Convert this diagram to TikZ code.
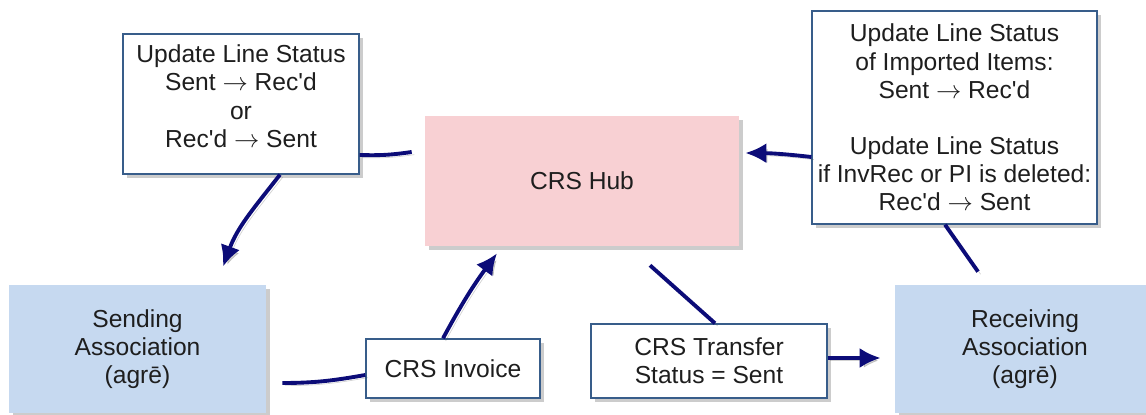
\documentclass[tikz,border=0pt]{standalone}
\usepackage{fontspec}
\setmainfont{Liberation Sans}
\usetikzlibrary{arrows.meta,shadows}

\definecolor{hubpink}{RGB}{248,208,211}
\definecolor{assocblue}{RGB}{198,217,240}
\definecolor{boxline}{RGB}{56,93,138}
\definecolor{flownavy}{RGB}{12,12,120}
\definecolor{inktext}{RGB}{30,30,30}

\newcommand{\recd}{Rec\textquotesingle d}
\newcommand{\goesto}{$\rightarrow$}

\tikzset{
    px/.style={x=0.02cm, y=0.02cm},
    all text/.style={font=\fontsize{14}{16}\selectfont, text=inktext, align=center},
    soft shadow/.style={drop shadow={opacity=.4, shadow xshift=2.5pt, shadow yshift=-2.5pt}},
    note box/.style={all text, draw=boxline, line width=.8pt, fill=white, soft shadow, inner sep=0pt},
    assoc box/.style={all text, fill=assocblue, soft shadow, inner sep=0pt},
    hub box/.style={all text, fill=hubpink, soft shadow, inner sep=0pt},
    flow/.style={draw=flownavy, line width=2.2pt,
        preaction={draw=black!70, opacity=.25, transform canvas={xshift=1.5pt, yshift=-1.5pt}}},
    flow arrow/.style={flow, -{Latex[length=12pt, width=11.5pt]}}
}

\begin{document}
\begin{tikzpicture}[px]
    \useasboundingbox (0,0) rectangle (1146,415);

    \node[hub box, minimum width=6.28cm, minimum height=2.6cm] (hub) at (582,234) {CRS Hub};
    \node[note box, minimum width=4.72cm, minimum height=2.8cm] (upleft) at (241,311)
        {Update Line Status\\Sent \goesto{} \recd\\or\\\recd{} \goesto{} Sent\\[-7pt]\mbox{}};
    \node[note box, minimum width=5.7cm, minimum height=4.26cm] (upright) at (954.5,297.5)
        {Update Line Status\\of Imported Items:\\Sent \goesto{} \recd\\[16pt]Update Line Status\\if InvRec or PI is deleted:\\\recd{} \goesto{} Sent};
    \node[assoc box, minimum width=5.14cm, minimum height=2.56cm] (send) at (137.5,66)
        {Sending\\Association\\(agrē)};
    \node[assoc box, minimum width=5.2cm, minimum height=2.56cm] (recv) at (1025,66)
        {Receiving\\Association\\(agrē)};
    \node[note box, minimum width=3.48cm, minimum height=1.18cm] (invoice) at (453,46.5) {CRS Invoice};
    \node[note box, minimum width=4.72cm, minimum height=1.48cm] (transfer) at (709,54)
        {CRS Transfer\\Status = Sent};

    % status updates
    \draw[flow] ([shift={(-13,29)}]hub.west) to[bend left=5] ([shift={(0,-51)}]upleft.east);
    \draw[flow arrow] ([shift={(39,0)}]upleft.south) to[out=-128, in=70] ([shift={(85.5,18)}]send.north);
    \draw[flow] ([shift={(-47,13)}]recv.north) -- ([shift={(-9.5,0)}]upright.south);
    \draw[flow arrow] ([shift={(0,-39.5)}]upright.west) to[bend right=3] ([shift={(6,28)}]hub.east);

    % invoice and transfer
    \draw[flow] ([shift={(16,-34)}]send.east) to[out=0, in=190] ([shift={(0,-6.5)}]invoice.west);
    \draw[flow arrow] ([shift={(-10,0)}]invoice.north) to[bend left=4] ([shift={(-85,-7)}]hub.south);
    \draw[flow] ([shift={(68,-19)}]hub.south) -- ([shift={(6,0)}]transfer.north);
    \draw[flow arrow] ([shift={(0,3)}]transfer.east) -- ([shift={(-14,-9)}]recv.west);
\end{tikzpicture}
\end{document}
